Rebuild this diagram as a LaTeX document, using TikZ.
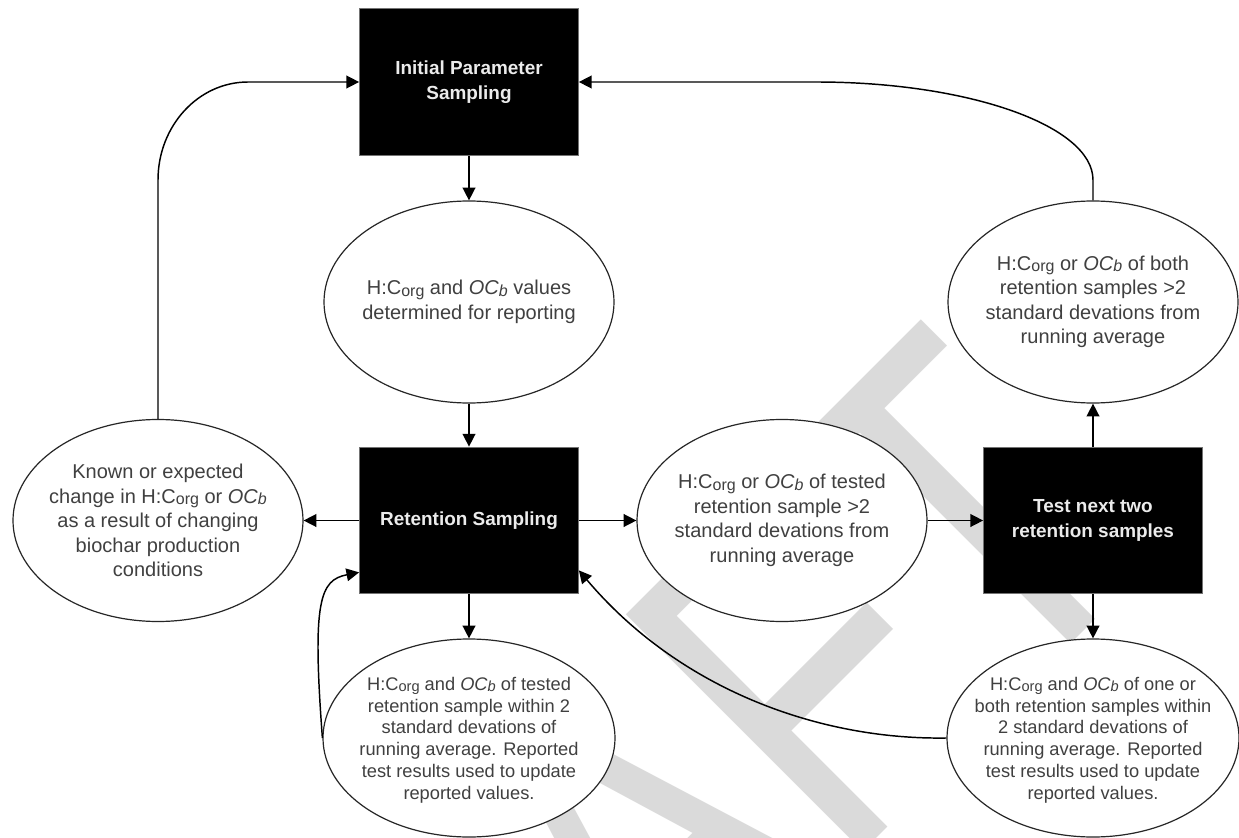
\documentclass[tikz,border=0pt]{standalone}
\usepackage{fontspec}
\setmainfont{Liberation Sans}
\usepackage{graphicx}
\usetikzlibrary{shapes.geometric,arrows.meta,calc}
\definecolor{wm}{RGB}{218,218,218}
\definecolor{txt}{RGB}{64,64,64}
\definecolor{boxtxt}{RGB}{235,235,235}
\newcommand{\smlow}[1]{\raisebox{-0.15ex}{\scalebox{0.8}{#1}}}
\newcommand{\HC}{H:C\smlow{org}}
\newcommand{\OCb}{\textit{OC\smlow{b}}}
\begin{document}
\begin{tikzpicture}[x=0.75pt,y=-0.75pt,
  box/.style={rectangle, fill=black, draw=black!55, line width=0.8pt, minimum width=164pt, minimum height=110pt, inner sep=0pt, text=boxtxt, font=\fontsize{14.2pt}{18.5pt}\selectfont\bfseries, align=center},
  ell/.style={ellipse, draw=black!85, fill=white, line width=0.9pt, minimum width=217.5pt, minimum height=151.5pt, inner sep=0pt},
  ellb/.style={ell, minimum width=219pt, minimum height=148.5pt},
  etxt/.style={text=txt, align=center, inner sep=0pt, font=\fontsize{15pt}{18.4pt}\selectfont},
  etxtb/.style={etxt, font=\fontsize{13.7pt}{16.35pt}\selectfont},
  arr/.style={-{Triangle[length=9.5pt,width=9.5pt]}, line width=1.1pt, draw=black}
]
\useasboundingbox (0,0) rectangle (1239,838);
\fill[white] (0,0) rectangle (1239,838);
% watermark
\begin{scope}
\clip (0,0) rectangle (1239,838);
\node[rotate=45, anchor=base east, inner sep=0pt, text=wm, font=\fontsize{281pt}{300pt}\selectfont] (wmk) at (1165,550) {\scalebox{1}[1.3]{DRAFT}};
\end{scope}
% ellipses
\node[ell] (e1) at (469,302) {};
\node[ell] (e2) at (158,520.5) {};
\node[ell] (e3) at (782,520.5) {};
\node[ell] (e4) at (1093,302) {};
\node[ellb] (e5) at (469,738) {};
\node[ellb] (e6) at (1093,738) {};
\node[etxt] (t1) at (e1) {\HC{} and \OCb{} values\\determined for reporting};
\node[etxt] (t2) at (e2) {Known or expected\\change in \HC{} or \OCb\\as a result of changing\\biochar production\\conditions};
\node[etxt] (t3) at (e3) {\HC{} or \OCb{} of tested\\retention sample >2\\standard devations from\\running average};
\node[etxt] (t4) at (e4) {\HC{} or \OCb{} of both\\retention samples >2\\standard devations from\\running average};
\node[etxtb] (t5) at ($(e5)+(0,2)$) {\HC{} and \OCb{} of tested\\retention sample within 2\\standard devations of\\running average. Reported\\test results used to update\\reported values.};
\node[etxtb] (t6) at ($(e6)+(0,2)$) {\HC{} and \OCb{} of one or\\both retention samples within\\2 standard devations of\\running average. Reported\\test results used to update\\reported values.};
% boxes
\node[box] (ips) at (469,82) {Initial Parameter\\Sampling};
\node[box] (rs) at (469,520.5) {Retention Sampling};
\node[box] (tn) at (1093,520.5) {Test next two\\retention samples};
% connectors
\draw[arr] (ips) -- (e1);
\draw[arr] (e1) -- (rs);
\draw[arr] (rs) -- (e2);
\draw[arr] (rs) -- (e3);
\draw[arr] (e3) -- (tn);
\draw[arr] (tn) -- (e4);
\draw[arr] (rs) -- (e5);
\draw[arr] (tn) -- (e6);
\draw[arr] (e2.north) -- (158,180) .. controls (158,125.9) and (198.3,82) .. (248,82) -- (ips.west);
\draw[arr] (e4.north) -- (1093,180) .. controls (1093,125.9) and (969,82) .. (816,82) -- (ips.east);
\coordinate (rsL) at ($(rs.south west)+(0,-22)$);
\coordinate (rsR) at ($(rs.south east)+(0,-24)$);
\draw[arr] (e5.west) .. controls (312,600) and (320,580) .. (rsL);
\draw[arr] (e6.west) .. controls (820,740) and (680,690) .. (rsR);
\end{tikzpicture}
\end{document}
